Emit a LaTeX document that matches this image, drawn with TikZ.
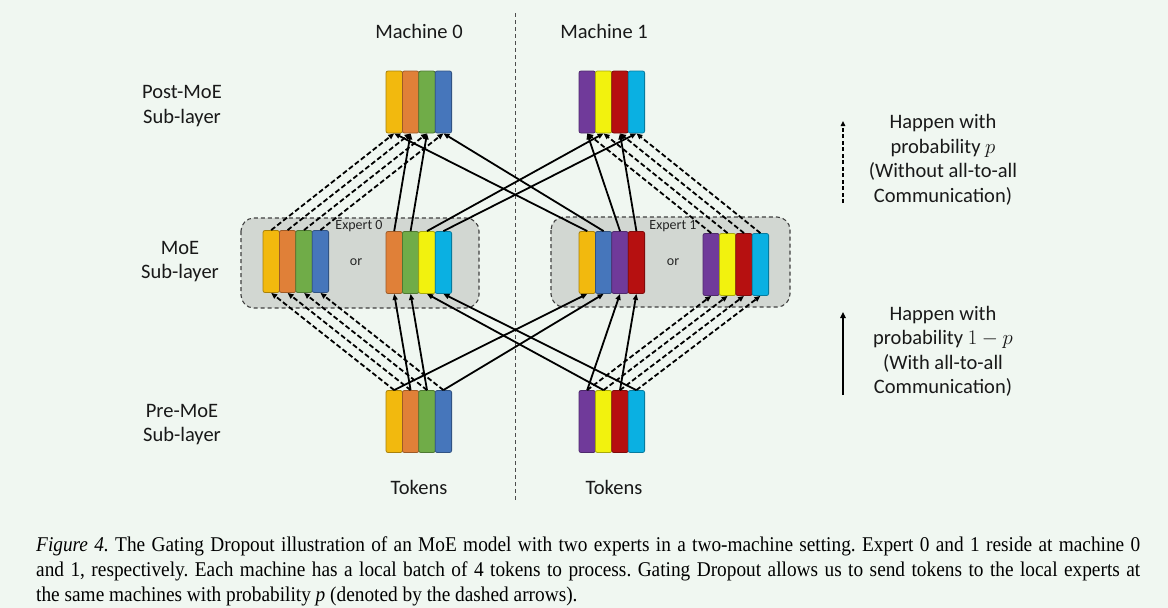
\documentclass[tikz,border=0pt]{standalone}
\usepackage{fontspec}
\newfontfamily\calfont{Carlito}
\newfontfamily\capfont{Liberation Serif}[FakeStretch=0.92]
\usetikzlibrary{arrows.meta}
\frenchspacing
\definecolor{bgc}{RGB}{240,247,241}
\definecolor{boxc}{RGB}{210,215,210}
\definecolor{cGold}{RGB}{242,185,14}
\definecolor{cOrange}{RGB}{224,128,56}
\definecolor{cGreen}{RGB}{112,172,72}
\definecolor{cBlue}{RGB}{70,118,187}
\definecolor{cPurple}{RGB}{112,58,154}
\definecolor{cYellow}{RGB}{242,242,14}
\definecolor{cRed}{RGB}{182,16,16}
\definecolor{cCyan}{RGB}{10,176,226}
\tikzset{
  strip/.style={rectangle,rounded corners=2pt,minimum width=16.4pt,minimum height=62pt,inner sep=0pt,line width=0.8pt},
  exbox/.style={draw=black!75,line width=1.1pt,dash pattern=on 4pt off 3pt,rounded corners=13pt,fill=boxc},
  sarr/.style={line width=1.8pt,-{Triangle[length=6pt,width=5pt]}},
  darr/.style={line width=1.8pt,dash pattern=on 5pt off 2.6pt,-{Triangle[length=6pt,width=5pt]}},
  lab/.style={font=\calfont\fontsize{20.5}{24.5}\selectfont,align=center,text=black!90,inner sep=0pt},
  small/.style={font=\calfont\fontsize{14}{16}\selectfont,text=black!85,inner sep=0pt},
  capl/.style={font=\capfont\fontsize{21}{25}\selectfont,anchor=base west,inner sep=0pt}
}
\newcommand\tokstrip[4]{\foreach \c [count=\i] in {#4}{\node[strip,fill=\c,draw=\c!70!black] (#1\i) at ({#2+(\i-0.5)*16.4},#3) {};}}
\begin{document}
\begin{tikzpicture}[x=1pt,y=-1pt]
\fill[bgc] (0,0) rectangle (1168,608);
\useasboundingbox (0,0) rectangle (1168,608);
% separator
\coordinate (sepT) at (515,13);
\coordinate (sepB) at (515,500);
\draw[black!70,line width=1pt,dash pattern=on 4pt off 3pt] (sepT) -- (sepB);
% expert boxes
\draw[exbox] (241,218) rectangle (479,308);
\draw[exbox] (551,217) rectangle (790,307);
\node[small] (ex0) at (359,226) {Expert 0};
\node[small] (ex1) at (673,226) {Expert 1};
\node[small] (or0) at (356,262) {or};
\node[small] (or1) at (673,262) {or};
% token strips
\tokstrip{Q0}{386}{102}{cGold,cOrange,cGreen,cBlue}
\tokstrip{Q1}{579}{102}{cPurple,cYellow,cRed,cCyan}
\tokstrip{EL0}{263}{261.5}{cGold,cOrange,cGreen,cBlue}
\tokstrip{ER0}{386}{262.5}{cOrange,cGreen,cYellow,cCyan}
\tokstrip{EL1}{579}{262.5}{cGold,cBlue,cPurple,cRed}
\tokstrip{ER1}{703}{264.5}{cPurple,cYellow,cRed,cCyan}
\tokstrip{P0}{386}{421.5}{cGold,cOrange,cGreen,cBlue}
\tokstrip{P1}{579}{421.5}{cPurple,cYellow,cRed,cCyan}
% dashed (local) arrows
\foreach \i in {1,2,3,4}{
  \draw[darr] (P0\i.north) -- (EL0\i.south);
  \draw[darr] (EL0\i.north) -- (Q0\i.south);
  \draw[darr] (P1\i.north) -- (ER1\i.south);
  \draw[darr] (ER1\i.north) -- (Q1\i.south);
}
% solid (all-to-all) arrows
\foreach \a/\b in {P01/EL11,P02/ER01,P03/ER02,P04/EL12,P11/EL13,P12/ER03,P13/EL14,P14/ER04,
  ER01/Q02,ER02/Q03,ER03/Q12,ER04/Q14,EL11/Q01,EL12/Q04,EL13/Q11,EL14/Q13}{
  \draw[sarr] (\a.north) -- (\b.south);
}
% labels
\node[lab] (m0) at (419,31) {Machine 0};
\node[lab] (m1) at (604,31) {Machine 1};
\node[lab] (t0) at (419,487) {Tokens};
\node[lab] (t1) at (614,487) {Tokens};
\node[lab] (post) at (182,106) {Post-MoE\\Sub-layer};
\node[lab] (moe) at (180,261.5) {MoE\\Sub-layer};
\node[lab] (pre) at (182,424.5) {Pre-MoE\\Sub-layer};
% legend
\coordinate (ld1) at (843,203);
\coordinate (ld2) at (843,121);
\draw[line width=1.6pt,dash pattern=on 4pt off 2.5pt,-{Triangle[length=5pt,width=4.5pt]}] (ld1) -- (ld2);
\coordinate (ls1) at (843,395);
\coordinate (ls2) at (843,312);
\draw[line width=2.6pt,-{Triangle[length=6pt,width=5.5pt]}] (ls1) -- (ls2);
\node[lab] (leg1) at (943,160) {Happen with\\probability $p$\\(Without all-to-all\\Communication)};
\node[lab] (leg2) at (943,351.5) {Happen with\\probability $1-p$\\(With all-to-all\\Communication)};
% caption
\node[capl] (cap1) at (36,551) {\makebox[1104pt][s]{\textit{Figure 4.} The Gating Dropout illustration of an MoE model with two experts in a two-machine setting. Expert 0 and 1 reside at machine 0}};
\node[capl] (cap2) at (36,576) {\makebox[1104pt][s]{and 1, respectively. Each machine has a local batch of 4 tokens to process. Gating Dropout allows us to send tokens to the local experts at}};
\node[capl] (cap3) at (36,601) {the same machines with probability \textit{p} (denoted by the dashed arrows).};
\end{tikzpicture}
\end{document}
